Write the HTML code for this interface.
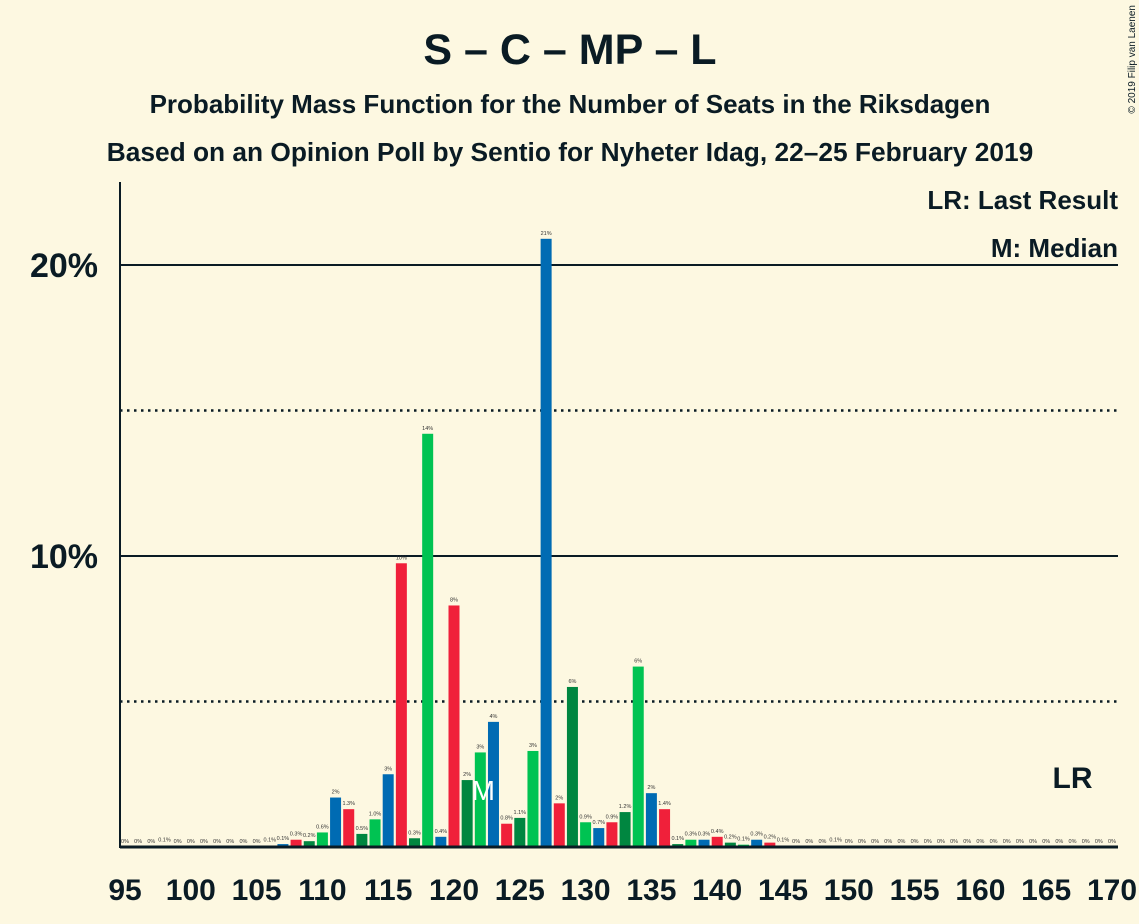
<!DOCTYPE html>
<html><head><meta charset="utf-8"><style>
body{margin:0;background:#fdf8e1;}
svg{display:block;font-family:"Liberation Sans",sans-serif;}
</style></head><body>
<svg id="c" width="1139" height="924">
<rect width="1139" height="924" fill="#fdf8e1"/>
<text x="570" y="64" text-anchor="middle" font-size="43" font-weight="bold" fill="#0a1b24">S – C – MP – L</text>
<text x="570" y="113" text-anchor="middle" font-size="26" font-weight="bold" fill="#0a1b24">Probability Mass Function for the Number of Seats in the Riksdagen</text>
<text x="570" y="161" text-anchor="middle" font-size="26.3" font-weight="bold" fill="#0a1b24">Based on an Opinion Poll by Sentio for Nyheter Idag, 22–25 February 2019</text>
<text x="1135" y="5" font-size="10" fill="#0a1b24" transform="rotate(-90 1135 5)" text-anchor="end">© 2019 Filip van Laenen</text>
<g id="grid"></g>
<g id="bars"></g>
<text x="1118" y="209" text-anchor="end" font-size="26" font-weight="bold" fill="#0a1b24">LR: Last Result</text>
<text x="1118" y="257" text-anchor="end" font-size="26" font-weight="bold" fill="#0a1b24">M: Median</text>
</svg>
<script>
const seats=[];for(let s=95;s<=170;s++)seats.push(s);
const probs=[0,0,0,0.05,0,0,0,0,0,0,0,0.05,0.1,0.25,0.2,0.5,1.7,1.3,0.45,0.95,2.5,9.75,0.3,14.2,0.35,8.3,2.3,3.25,4.3,0.8,1.0,3.3,20.9,1.5,5.5,0.85,0.65,0.85,1.2,6.2,1.85,1.3,0.1,0.25,0.25,0.35,0.15,0.08,0.25,0.15,0.05,0,0,0,0.05,0,0,0,0,0,0,0,0,0,0,0,0,0,0,0,0,0,0,0,0,0];
const labels=["0%","0%","0%","0.1%","0%","0%","0%","0%","0%","0%","0%","0.1%","0.1%","0.3%","0.2%","0.6%","2%","1.3%","0.5%","1.0%","3%","10%","0.3%","14%","0.4%","8%","2%","3%","4%","0.8%","1.1%","3%","21%","2%","6%","0.9%","0.7%","0.9%","1.2%","6%","2%","1.4%","0.1%","0.3%","0.3%","0.4%","0.2%","0.1%","0.3%","0.2%","0.1%","0%","0%","0%","0.1%","0%","0%","0%","0%","0%","0%","0%","0%","0%","0%","0%","0%","0%","0%","0%","0%","0%","0%","0%","0%","0%"];
const yTicks=[10,20];
const yMinor=[5,15];
const xTicks=[95,100,105,110,115,120,125,130,135,140,145,150,155,160,165,170];
const medianSeat=122, lastResultSeat=167;
const colors=["#006bb3","#f0203a","#008640","#00c352"];
const NS="http://www.w3.org/2000/svg";
const x=s=>125+(s-95)*13.16;
const y=p=>847-p*29.1;
function mk(t,a,parent){const e=document.createElementNS(NS,t);for(const k in a)e.setAttribute(k,a[k]);parent.appendChild(e);return e;}
const g=document.getElementById('grid'),b=document.getElementById('bars');
yMinor.forEach(v=>{const l=mk('line',{x1:120,x2:1118,y1:y(v),y2:y(v),stroke:'#0a1b24','stroke-width':2.5,'stroke-dasharray':'2.5,4.5'},g);

});
yTicks.forEach(v=>{const l=mk('line',{x1:120,x2:1118,y1:y(v),y2:y(v),stroke:'#0a1b24','stroke-width':2},g);


const t=mk('text',{x:98,y:y(v)+12,'text-anchor':'end','font-size':34,'font-weight':'bold',fill:'#0a1b24'},g);t.textContent=v+'%';

});
seats.forEach((s,i)=>{const p=probs[i];
if(p>0){const r=mk('rect',{x:x(s)-5.5,y:y(p),width:11,height:847-y(p)},b);
r.setAttribute('fill',colors[((s-107)%4+4)%4]);

}
const t=mk('text',{x:x(s),y:y(p)-4,'text-anchor':'middle','font-size':5.5,fill:'#333'},b);t.textContent=labels[i];

});
const ax=mk('line',{x1:120,x2:1118,y1:847,y2:847,stroke:'#0a1b24','stroke-width':3},b);


const ay=mk('line',{x1:120,x2:120,y1:182,y2:848,stroke:'#0a1b24','stroke-width':2},b);


xTicks.forEach(s=>{const t=mk('text',{x:x(s),y:900,'text-anchor':'middle','font-size':30,'font-weight':'bold',fill:'#0a1b24'},b);t.textContent=s;

});
const m=mk('text',{x:x(medianSeat)+3,y:800,'text-anchor':'middle','font-size':28,fill:'#fff'},b);m.textContent='M';


const lr=mk('text',{x:x(lastResultSeat),y:788,'text-anchor':'middle','font-size':30,'font-weight':'bold',fill:'#0a1b24'},b);lr.textContent='LR';


</script>
</body></html>
